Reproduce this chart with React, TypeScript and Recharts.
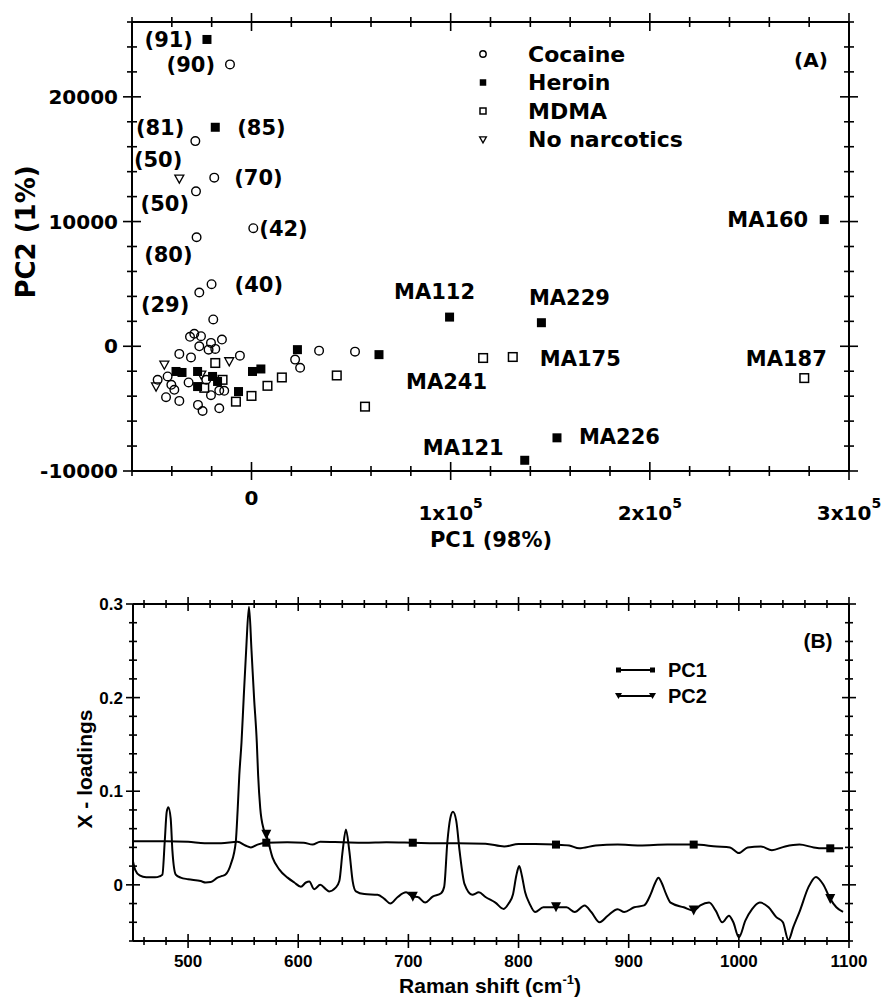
import type { ReactElement } from "react";
import { ComposedChart, Line, Scatter, XAxis, YAxis } from "recharts";

type Score = { pc1: number; pc2: number; label?: string };
type Loading = { shift: number; value: number };

// ---- (A) PCA scores ----
const cocaineScores: Score[] = [
  { pc1: -10800, pc2: 22600, label: "(90)" },
  { pc1: -28200, pc2: 16450, label: "(81)" },
  { pc1: -18700, pc2: 13520, label: "(70)" },
  { pc1: -27870, pc2: 12420, label: "(50)" },
  { pc1: 900, pc2: 9470, label: "(42)" },
  { pc1: -27570, pc2: 8740, label: "(80)" },
  { pc1: -20050, pc2: 4980, label: "(40)" },
  { pc1: -26210, pc2: 4310, label: "(29)" },
  { pc1: -19200, pc2: 2150 },
  { pc1: -28720, pc2: 1000 },
  { pc1: -30880, pc2: 760 },
  { pc1: -25360, pc2: 810 },
  { pc1: -26210, pc2: 0 },
  { pc1: -20350, pc2: 270 },
  { pc1: -14840, pc2: 540 },
  { pc1: -21550, pc2: -270 },
  { pc1: -18190, pc2: -210 },
  { pc1: -36240, pc2: -610 },
  { pc1: -30380, pc2: -890 },
  { pc1: -5820, pc2: -750 },
  { pc1: 33930, pc2: -350 },
  { pc1: 51980, pc2: -430 },
  { pc1: 21900, pc2: -1070 },
  { pc1: 24410, pc2: -1720 },
  { pc1: -47120, pc2: -2690 },
  { pc1: -42110, pc2: -2420 },
  { pc1: -38750, pc2: -3490 },
  { pc1: -42910, pc2: -4080 },
  { pc1: -36240, pc2: -4380 },
  { pc1: -20350, pc2: -3920 },
  { pc1: -16190, pc2: -3550 },
  { pc1: -13690, pc2: -3570 },
  { pc1: -26870, pc2: -4700 },
  { pc1: -24560, pc2: -5190 },
  { pc1: -16190, pc2: -4970 },
  { pc1: -31580, pc2: -2900 },
  { pc1: -40250, pc2: -3090 },
  { pc1: -22710, pc2: -2690 },
];

const heroinScores: Score[] = [
  { pc1: -22360, pc2: 24600, label: "(91)" },
  { pc1: -18190, pc2: 17560, label: "(85)" },
  { pc1: 99450, pc2: 2340, label: "MA112" },
  { pc1: 145560, pc2: 1890, label: "MA229" },
  { pc1: 153380, pc2: -7340, label: "MA226" },
  { pc1: 137190, pc2: -9140, label: "MA121" },
  { pc1: 287570, pc2: 10160, label: "MA160" },
  { pc1: -37900, pc2: -2020 },
  { pc1: -34890, pc2: -2100 },
  { pc1: -27070, pc2: -2020 },
  { pc1: -27070, pc2: -3230 },
  { pc1: -19550, pc2: -2420 },
  { pc1: -17040, pc2: -2820 },
  { pc1: 500, pc2: -2020 },
  { pc1: 4710, pc2: -1820 },
  { pc1: -6520, pc2: -3630 },
  { pc1: 23060, pc2: -270 },
  { pc1: 64010, pc2: -670 },
];

const mdmaScores: Score[] = [
  { pc1: 116290, pc2: -940, label: "MA241" },
  { pc1: 131180, pc2: -860, label: "MA175" },
  { pc1: 277540, pc2: -2550, label: "MA187" },
  { pc1: -18190, pc2: -1340 },
  { pc1: -14540, pc2: -2690 },
  { pc1: -7820, pc2: -4440 },
  { pc1: 0, pc2: -3980 },
  { pc1: 8020, pc2: -3170 },
  { pc1: 15240, pc2: -2500 },
  { pc1: 42810, pc2: -2340 },
  { pc1: 56990, pc2: -4840 },
  { pc1: -23710, pc2: -3330 },
];

const noNarcoticScores: Score[] = [
  { pc1: -36240, pc2: 13440, label: "(50)" },
  { pc1: -43760, pc2: -1480 },
  { pc1: -11180, pc2: -1210 },
  { pc1: -47920, pc2: -3230 },
  { pc1: -25210, pc2: -2280 },
];

const pc1Ticks = [
  -60000, -40000, -20000, 0, 20000, 40000, 60000, 80000, 100000, 120000, 140000, 160000, 180000,
  200000, 220000, 240000, 260000, 280000, 300000,
];
const pc2Ticks = [
  -10000, -8000, -6000, -4000, -2000, 0, 2000, 4000, 6000, 8000, 10000, 12000, 14000, 16000, 18000,
  20000, 22000, 24000, 26000,
];
const pc1TickLabels = [
  { value: 0, text: "0", exp: "" },
  { value: 100000, text: "1x10", exp: "5" },
  { value: 200000, text: "2x10", exp: "5" },
  { value: 300000, text: "3x10", exp: "5" },
];
const pc2TickLabels = [
  { value: -10000, text: "-10000" },
  { value: 0, text: "0" },
  { value: 10000, text: "10000" },
  { value: 20000, text: "20000" },
];

// ---- (B) X-loadings ----
const pc2Loadings: Loading[] = [
  { shift: 450, value: 0.025 }, { shift: 452, value: 0.016 }, { shift: 456, value: 0.01 },
  { shift: 462, value: 0.008 }, { shift: 470, value: 0.008 }, { shift: 474, value: 0.009 },
  { shift: 476.7, value: 0.011 }, { shift: 478.8, value: 0.046 }, { shift: 480.6, value: 0.078 },
  { shift: 482.1, value: 0.083 }, { shift: 484.2, value: 0.071 }, { shift: 485.8, value: 0.036 },
  { shift: 488.8, value: 0.011 }, { shift: 493.3, value: 0.0077 }, { shift: 500, value: 0.006 },
  { shift: 511.5, value: 0.004 }, { shift: 516, value: 0.0025 }, { shift: 520.6, value: 0.003 },
  { shift: 526.7, value: 0.0077 }, { shift: 531, value: 0.0095 }, { shift: 534, value: 0.011 },
  { shift: 538.8, value: 0.022 }, { shift: 543.3, value: 0.046 }, { shift: 545, value: 0.08 },
  { shift: 546.5, value: 0.117 }, { shift: 548.5, value: 0.152 }, { shift: 550.5, value: 0.2 },
  { shift: 552.7, value: 0.25 }, { shift: 555.3, value: 0.297 }, { shift: 557.6, value: 0.25 },
  { shift: 559.9, value: 0.2 }, { shift: 562.4, value: 0.152 }, { shift: 563.6, value: 0.117 },
  { shift: 565.5, value: 0.082 }, { shift: 568.5, value: 0.06 }, { shift: 571, value: 0.0535 },
  { shift: 576.7, value: 0.029 }, { shift: 582.7, value: 0.0165 }, { shift: 590.3, value: 0.0077 },
  { shift: 596.4, value: 0.0025 }, { shift: 602.4, value: -0.002 }, { shift: 607, value: 0.0025 },
  { shift: 610, value: 0.0035 }, { shift: 614.5, value: -0.0046 }, { shift: 620, value: 0 },
  { shift: 625, value: -0.0046 }, { shift: 628, value: -0.007 }, { shift: 634, value: -0.003 },
  { shift: 637.3, value: 0.004 }, { shift: 640.3, value: 0.036 }, { shift: 643.3, value: 0.059 },
  { shift: 646.4, value: 0.036 }, { shift: 649.4, value: 0.004 }, { shift: 652.4, value: -0.007 },
  { shift: 660, value: -0.0099 }, { shift: 672, value: -0.0106 }, { shift: 678.2, value: -0.015 },
  { shift: 683.6, value: -0.02 }, { shift: 690.3, value: -0.013 }, { shift: 697.9, value: -0.008 },
  { shift: 704, value: -0.0127 }, { shift: 708.5, value: -0.013 }, { shift: 715.2, value: -0.019 },
  { shift: 722, value: -0.0127 }, { shift: 729.7, value: -0.009 }, { shift: 732.5, value: -0.002 },
  { shift: 735.4, value: 0.046 }, { shift: 738, value: 0.071 }, { shift: 740.5, value: 0.078 },
  { shift: 743.5, value: 0.068 }, { shift: 746.5, value: 0.036 }, { shift: 751, value: 0.0007 },
  { shift: 758, value: -0.0106 }, { shift: 764, value: -0.008 }, { shift: 770, value: -0.013 },
  { shift: 779, value: -0.019 }, { shift: 786.5, value: -0.0257 }, { shift: 791, value: -0.02 },
  { shift: 795, value: -0.01 }, { shift: 798, value: 0.01 }, { shift: 800.6, value: 0.02 },
  { shift: 803, value: 0.01 }, { shift: 806, value: -0.008 }, { shift: 810, value: -0.02 },
  { shift: 815, value: -0.029 }, { shift: 822.5, value: -0.024 }, { shift: 834, value: -0.024 },
  { shift: 843.6, value: -0.024 }, { shift: 851, value: -0.029 }, { shift: 860, value: -0.022 },
  { shift: 866, value: -0.029 }, { shift: 873.6, value: -0.04 }, { shift: 881, value: -0.033 },
  { shift: 890, value: -0.026 }, { shift: 896, value: -0.029 }, { shift: 905, value: -0.024 },
  { shift: 914, value: -0.022 }, { shift: 920, value: -0.01 }, { shift: 924, value: 0.002 },
  { shift: 927, value: 0.0077 }, { shift: 930, value: 0.002 }, { shift: 934, value: -0.01 },
  { shift: 938, value: -0.019 }, { shift: 950, value: -0.024 }, { shift: 959, value: -0.0275 },
  { shift: 965, value: -0.022 }, { shift: 973, value: -0.019 }, { shift: 979, value: -0.0275 },
  { shift: 985, value: -0.04 }, { shift: 991, value: -0.033 }, { shift: 995, value: -0.04 },
  { shift: 1000, value: -0.056 }, { shift: 1006, value: -0.038 }, { shift: 1012, value: -0.026 },
  { shift: 1019, value: -0.019 }, { shift: 1027, value: -0.024 }, { shift: 1034, value: -0.0345 },
  { shift: 1040, value: -0.04 }, { shift: 1045, value: -0.059 }, { shift: 1049.5, value: -0.045 },
  { shift: 1055.5, value: -0.0275 }, { shift: 1063, value: -0.003 }, { shift: 1070, value: 0.0085 },
  { shift: 1076.5, value: 0.0007 }, { shift: 1083, value: -0.015 }, { shift: 1088.5, value: -0.024 },
  { shift: 1094.6, value: -0.029 },
];

const pc1Loadings: Loading[] = [
  { shift: 450, value: 0.0465 }, { shift: 480, value: 0.0465 }, { shift: 500, value: 0.046 },
  { shift: 515, value: 0.0445 }, { shift: 530, value: 0.0445 }, { shift: 545, value: 0.046 },
  { shift: 552, value: 0.042 }, { shift: 557, value: 0.04 }, { shift: 563, value: 0.043 },
  { shift: 571, value: 0.045 }, { shift: 590, value: 0.0455 }, { shift: 605, value: 0.045 },
  { shift: 613, value: 0.043 }, { shift: 620, value: 0.046 }, { shift: 640, value: 0.0455 },
  { shift: 660, value: 0.045 }, { shift: 680, value: 0.0455 }, { shift: 704, value: 0.045 },
  { shift: 725, value: 0.0445 }, { shift: 745, value: 0.0445 }, { shift: 770, value: 0.044 },
  { shift: 787, value: 0.041 }, { shift: 800, value: 0.0435 }, { shift: 815, value: 0.0435 },
  { shift: 834, value: 0.043 }, { shift: 846, value: 0.042 }, { shift: 855, value: 0.039 },
  { shift: 870, value: 0.042 }, { shift: 890, value: 0.043 }, { shift: 910, value: 0.042 },
  { shift: 935, value: 0.043 }, { shift: 959, value: 0.043 }, { shift: 980, value: 0.041 },
  { shift: 992, value: 0.04 }, { shift: 1000, value: 0.034 }, { shift: 1008, value: 0.04 },
  { shift: 1020, value: 0.041 }, { shift: 1030, value: 0.037 }, { shift: 1042, value: 0.041 },
  { shift: 1055, value: 0.043 }, { shift: 1068, value: 0.04 }, { shift: 1075, value: 0.039 },
  { shift: 1083, value: 0.039 }, { shift: 1094.6, value: 0.039 },
];

// every ~125 cm-1 the curves carry a symbol
const loadingMarkerShifts = [571, 704, 834, 959, 1083];

const shiftTicks = [
  460, 480, 500, 520, 540, 560, 580, 600, 620, 640, 660, 680, 700, 720, 740, 760, 780, 800, 820,
  840, 860, 880, 900, 920, 940, 960, 980, 1000, 1020, 1040, 1060, 1080, 1100,
];
const shiftMajors = [500, 600, 700, 800, 900, 1000, 1100];
const loadingTicks = [
  -0.06, -0.04, -0.02, 0, 0.02, 0.04, 0.06, 0.08, 0.1, 0.12, 0.14, 0.16, 0.18, 0.2, 0.22, 0.24,
  0.26, 0.28, 0.3,
];
const loadingTickLabels = [
  { value: 0, text: "0" },
  { value: 0.1, text: "0.1" },
  { value: 0.2, text: "0.2" },
  { value: 0.3, text: "0.3" },
];

const WIDE = "'DejaVu Sans', sans-serif";
const ARIAL = "'Liberation Sans', Arial, sans-serif";

// where each score label sits relative to its symbol (px)
const scoreLabelPlacement: Record<string, { dx: number; dy: number; anchor: "start" | "middle" | "end" }> = {
  "heroin:(91)": { dx: -14, dy: 0, anchor: "end" },
  "cocaine:(90)": { dx: -15, dy: 0, anchor: "end" },
  "heroin:(85)": { dx: 22, dy: 0, anchor: "start" },
  "cocaine:(81)": { dx: -11, dy: -14, anchor: "end" },
  "none:(50)": { dx: 3, dy: -19, anchor: "end" },
  "cocaine:(70)": { dx: 20, dy: 0, anchor: "start" },
  "cocaine:(50)": { dx: -7, dy: 12, anchor: "end" },
  "cocaine:(42)": { dx: 6, dy: 0, anchor: "start" },
  "cocaine:(80)": { dx: -4, dy: 17, anchor: "end" },
  "cocaine:(40)": { dx: 23, dy: 0, anchor: "start" },
  "cocaine:(29)": { dx: -10, dy: 12, anchor: "end" },
  "heroin:MA112": { dx: -15, dy: -26, anchor: "middle" },
  "heroin:MA229": { dx: 28, dy: -25, anchor: "middle" },
  "mdma:MA175": { dx: 27, dy: 1, anchor: "start" },
  "mdma:MA241": { dx: 4, dy: 23, anchor: "end" },
  "mdma:MA187": { dx: -18, dy: -20, anchor: "middle" },
  "heroin:MA226": { dx: 22, dy: -1, anchor: "start" },
  "heroin:MA121": { dx: -21, dy: -13, anchor: "end" },
  "heroin:MA160": { dx: -16, dy: 0, anchor: "end" },
};

const openCircle = (cx: number, cy: number, r = 4.3) => (
  <circle cx={cx} cy={cy} r={r} fill="none" stroke="#000" strokeWidth={1.4} />
);
const filledSquare = (cx: number, cy: number, s = 9) => (
  <rect x={cx - s / 2} y={cy - s / 2} width={s} height={s} fill="#000" />
);
const openSquare = (cx: number, cy: number, s = 8.6) => (
  <rect x={cx - s / 2} y={cy - s / 2} width={s} height={s} fill="none" stroke="#000" strokeWidth={1.5} />
);
const downTriangle = (cx: number, cy: number, s = 4.5) => (
  <path
    d={`M${cx - s},${cy - s * 0.8} L${cx + s},${cy - s * 0.8} L${cx},${cy + s} Z`}
    fill="none"
    stroke="#000"
    strokeWidth={1.3}
  />
);

const scoreShape = (series: string, mark: (cx: number, cy: number) => ReactElement) => (props: any) => {
  const { cx, cy, payload } = props;
  const place = payload.label ? scoreLabelPlacement[`${series}:${payload.label}`] : undefined;
  return (
    <g>
      {mark(cx, cy)}
      {place && (
        <text
          x={cx + place.dx}
          y={cy + place.dy + 7.5}
          textAnchor={place.anchor}
          fontFamily={WIDE}
          fontWeight="bold"
          fontSize={21}
          fill="#000"
        >
          {payload.label}
        </text>
      )}
    </g>
  );
};

type Side = "top" | "bottom" | "left" | "right";

// tick mark crossing the frame line, with an optional label
const frameTick =
  (side: Side, majors: number[], major: number, minor: number, label?: (v: number, x: number, y: number) => ReactElement | null) =>
  (props: any) => {
    const { x, y, payload } = props;
    const len = majors.includes(payload.value) ? major : minor;
    const horizontal = side === "top" || side === "bottom";
    return (
      <g>
        {horizontal ? (
          <line x1={x} x2={x} y1={y - len} y2={y + len} stroke="#000" strokeWidth={1.6} />
        ) : (
          <line x1={x - len} x2={x + len} y1={y} y2={y} stroke="#000" strokeWidth={1.6} />
        )}
        {label ? label(payload.value, x, y) : null}
      </g>
    );
  };

const pc1Label = (v: number, x: number, y: number) => {
  const t = pc1TickLabels.find((d) => d.value === v);
  if (!t) return null;
  return (
    <text x={x} y={y + (t.exp ? 49 : 34)} textAnchor="middle" fontFamily={WIDE} fontWeight="bold" fontSize={20} fill="#000">
      {t.text}
      {t.exp && (
        <tspan dy={-12} fontSize={14}>
          {t.exp}
        </tspan>
      )}
    </text>
  );
};

const pc2Label = (v: number, x: number, y: number) => {
  const t = pc2TickLabels.find((d) => d.value === v);
  if (!t) return null;
  return (
    <text x={x - 14} y={y + 7} textAnchor="end" fontFamily={WIDE} fontWeight="bold" fontSize={20} fill="#000">
      {t.text}
    </text>
  );
};

const shiftLabel = (v: number, x: number, y: number) =>
  shiftMajors.includes(v) ? (
    <text x={x} y={y + 26} textAnchor="middle" fontFamily={ARIAL} fontWeight="bold" fontSize={17} fill="#000">
      {v}
    </text>
  ) : null;

const loadingLabel = (v: number, x: number, y: number) => {
  const t = loadingTickLabels.find((d) => d.value === v);
  if (!t) return null;
  return (
    <text x={x - 10} y={y + 6} textAnchor="end" fontFamily={ARIAL} fontWeight="bold" fontSize={17} fill="#000">
      {t.text}
    </text>
  );
};

const pc2Majors = [-10000, 0, 10000, 20000];
const pc1Majors = [0, 100000, 200000, 300000];
const loadingMajors = [0, 0.1, 0.2, 0.3];

const axisLine = { stroke: "#000", strokeWidth: 2 };

const pc1Dot = (props: any) => {
  const { cx, cy, payload, index } = props;
  if (!loadingMarkerShifts.includes(payload.shift)) return <g key={`pc1-${index}`} />;
  return <rect key={`pc1-${index}`} x={cx - 4} y={cy - 4} width={8} height={8} fill="#000" />;
};

const pc2Dot = (props: any) => {
  const { cx, cy, payload, index } = props;
  if (!loadingMarkerShifts.includes(payload.shift)) return <g key={`pc2-${index}`} />;
  return <path key={`pc2-${index}`} d={`M${cx - 5},${cy - 5} L${cx + 5},${cy - 5} L${cx},${cy + 5} Z`} fill="#000" />;
};

const ScoresPanel = () => (
  <ComposedChart width={886} height={560} margin={{ top: 0, right: 0, bottom: 0, left: 0 }}>
    <XAxis
      dataKey="pc1"
      type="number"
      domain={[-60000, 300000]}
      allowDataOverflow
      ticks={pc1Ticks}
      interval={0}
      height={89}
      tickSize={0}
      tickMargin={0}
      tickLine={false}
      axisLine={axisLine}
      tick={frameTick("bottom", pc1Majors, 9, 5, pc1Label)}
    />
    <XAxis
      xAxisId="top"
      orientation="top"
      dataKey="pc1"
      type="number"
      domain={[-60000, 300000]}
      allowDataOverflow
      ticks={pc1Ticks}
      interval={0}
      height={22}
      tickSize={0}
      tickMargin={0}
      tickLine={false}
      axisLine={axisLine}
      tick={frameTick("top", pc1Majors, 9, 5)}
    />
    <YAxis
      dataKey="pc2"
      type="number"
      domain={[-10000, 26000]}
      allowDataOverflow
      ticks={pc2Ticks}
      interval={0}
      width={132}
      tickSize={0}
      tickMargin={0}
      tickLine={false}
      axisLine={axisLine}
      tick={frameTick("left", pc2Majors, 9, 5, pc2Label)}
    />
    <YAxis
      yAxisId="right"
      orientation="right"
      dataKey="pc2"
      type="number"
      domain={[-10000, 26000]}
      allowDataOverflow
      ticks={pc2Ticks}
      interval={0}
      width={37}
      tickSize={0}
      tickMargin={0}
      tickLine={false}
      axisLine={axisLine}
      tick={frameTick("right", pc2Majors, 9, 5)}
    />
    <Scatter xAxisId="top" yAxisId="right" data={[]} isAnimationActive={false} />
    <Scatter name="Cocaine" data={cocaineScores} shape={scoreShape("cocaine", (cx, cy) => openCircle(cx, cy))} isAnimationActive={false} />
    <Scatter name="MDMA" data={mdmaScores} shape={scoreShape("mdma", (cx, cy) => openSquare(cx, cy))} isAnimationActive={false} />
    <Scatter name="No narcotics" data={noNarcoticScores} shape={scoreShape("none", (cx, cy) => downTriangle(cx, cy))} isAnimationActive={false} />
    <Scatter name="Heroin" data={heroinScores} shape={scoreShape("heroin", (cx, cy) => filledSquare(cx, cy))} isAnimationActive={false} />
  </ComposedChart>
);

const LoadingsPanel = () => (
  <ComposedChart width={886} height={438} margin={{ top: 0, right: 0, bottom: 0, left: 0 }}>
    <XAxis
      dataKey="shift"
      type="number"
      domain={[450, 1100]}
      allowDataOverflow
      ticks={shiftTicks}
      interval={0}
      height={57}
      tickSize={0}
      tickMargin={0}
      tickLine={false}
      axisLine={axisLine}
      tick={frameTick("bottom", shiftMajors, 7, 4, shiftLabel)}
    />
    <XAxis
      xAxisId="top"
      orientation="top"
      dataKey="shift"
      type="number"
      domain={[450, 1100]}
      allowDataOverflow
      ticks={shiftTicks}
      interval={0}
      height={44}
      tickSize={0}
      tickMargin={0}
      tickLine={false}
      axisLine={axisLine}
      tick={frameTick("top", shiftMajors, 7, 4)}
    />
    <YAxis
      dataKey="value"
      type="number"
      domain={[-0.06, 0.3]}
      allowDataOverflow
      ticks={loadingTicks}
      interval={0}
      width={133}
      tickSize={0}
      tickMargin={0}
      tickLine={false}
      axisLine={axisLine}
      tick={frameTick("left", loadingMajors, 7, 4, loadingLabel)}
    />
    <YAxis
      yAxisId="right"
      orientation="right"
      dataKey="value"
      type="number"
      domain={[-0.06, 0.3]}
      allowDataOverflow
      ticks={loadingTicks}
      interval={0}
      width={37}
      tickSize={0}
      tickMargin={0}
      tickLine={false}
      axisLine={axisLine}
      tick={frameTick("right", loadingMajors, 7, 4)}
    />
    <Line xAxisId="top" yAxisId="right" data={[]} dataKey="value" dot={false} isAnimationActive={false} />
    <Line
      name="PC2"
      data={pc2Loadings}
      dataKey="value"
      type="monotone"
      stroke="#000"
      strokeWidth={2}
      dot={pc2Dot}
      activeDot={false}
      isAnimationActive={false}
    />
    <Line
      name="PC1"
      data={pc1Loadings}
      dataKey="value"
      type="monotone"
      stroke="#000"
      strokeWidth={2}
      dot={pc1Dot}
      activeDot={false}
      isAnimationActive={false}
    />
  </ComposedChart>
);

const bold = { fontWeight: "bold" as const, fill: "#000" };

// titles, panel tags and legends
const Annotations = () => (
  <svg width={886} height={998} style={{ position: "absolute", left: 0, top: 0, pointerEvents: "none" }}>
    <text transform="translate(35,232) rotate(-90)" textAnchor="middle" fontFamily={WIDE} fontSize={26} {...bold}>
      PC2 (1%)
    </text>
    <text x={491} y={547} textAnchor="middle" fontFamily={WIDE} fontSize={21} {...bold}>
      PC1 (98%)
    </text>
    <text x={811} y={67} textAnchor="middle" fontFamily={WIDE} fontSize={20} {...bold}>
      (A)
    </text>
    {openCircle(483, 54, 3.2)}
    {filledSquare(483, 82.5, 6.5)}
    {openSquare(483, 111, 6)}
    {downTriangle(483, 139.5, 3.4)}
    {["Cocaine", "Heroin", "MDMA", "No narcotics"].map((name, i) => (
      <text key={name} x={528} y={61.5 + i * 28.5} fontFamily={WIDE} fontSize={22} {...bold}>
        {name}
      </text>
    ))}

    <text transform="translate(92,769) rotate(-90)" textAnchor="middle" fontFamily={ARIAL} fontSize={21} {...bold}>
      X - loadings
    </text>
    <text x={490} y={993} textAnchor="middle" fontFamily={ARIAL} fontSize={21} {...bold}>
      Raman shift (cm
      <tspan dy={-9} fontSize={13}>
        -1
      </tspan>
      <tspan dy={9}>)</tspan>
    </text>
    <text x={818} y={648} textAnchor="middle" fontFamily={ARIAL} fontSize={21} {...bold}>
      (B)
    </text>
    <line x1={618} x2={653} y1={670} y2={670} stroke="#000" strokeWidth={1.8} />
    <rect x={616} y={667.5} width={5} height={5} fill="#000" />
    <rect x={650} y={667.5} width={5} height={5} fill="#000" />
    <line x1={618} x2={653} y1={696} y2={696} stroke="#000" strokeWidth={1.8} />
    <path d="M615,693 L622,693 L618.5,699 Z" fill="#000" />
    <path d="M649,693 L656,693 L652.5,699 Z" fill="#000" />
    <text x={668} y={677} fontFamily={ARIAL} fontSize={20} {...bold}>
      PC1
    </text>
    <text x={668} y={703} fontFamily={ARIAL} fontSize={20} {...bold}>
      PC2
    </text>
  </svg>
);

export default function App() {
  return (
    <div style={{ position: "absolute", left: 0, top: 0, width: 886, height: 998, background: "#fff" }}>
      <div style={{ position: "absolute", left: 0, top: 0 }}>
        <ScoresPanel />
      </div>
      <div style={{ position: "absolute", left: 0, top: 560 }}>
        <LoadingsPanel />
      </div>
      <Annotations />
    </div>
  );
}
